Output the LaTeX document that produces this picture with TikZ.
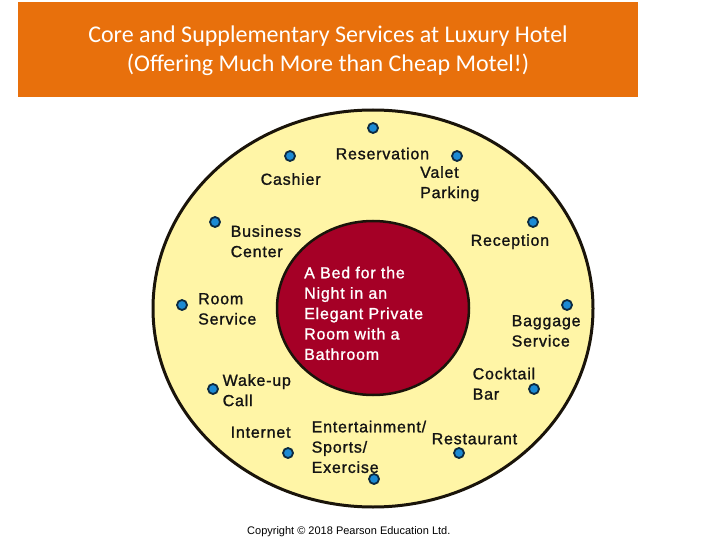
\documentclass[tikz,border=0pt]{standalone}
\usepackage{fontspec}
\setmainfont{Liberation Sans}
\newfontfamily\titrefont{Carlito}
\newfontfamily\servfont[LetterSpace=5,FakeBold=1.2]{Liberation Sans}
\usepackage{xcolor}

\definecolor{bandeau}{HTML}{E8700C}
\definecolor{anneau}{HTML}{FFF5A6}
\definecolor{noyau}{HTML}{A50026}
\definecolor{pastbleu}{HTML}{1C8AD4}
\definecolor{pastbord}{HTML}{0D2A40}
\definecolor{trait}{HTML}{1A140A}

\tikzset{
  pastille/.style={circle,minimum size=10pt,inner sep=0pt,fill=pastbleu,draw=pastbord,line width=1.8pt},
  service/.style={anchor=north west,inner sep=0pt,align=left,text=black!92,
    font=\servfont\fontsize{16}{20.3}\selectfont},
}

\begin{document}
\begin{tikzpicture}[x=1pt,y=-1pt]
    \useasboundingbox (0,0) rectangle (720,540);

    % Bandeau du titre
    \fill[bandeau] (18,2) rectangle (638,97);
    \node[align=center,text=white,font=\titrefont\fontsize{24}{29}\selectfont] (titre) at (328,51)
        {Core and Supplementary Services at Luxury Hotel\\(Offering Much More than Cheap Motel!)};

    % Les deux cercles
    \draw[fill=anneau,draw=trait,line width=3pt] (373,308.5) ellipse [x radius=220,y radius=198.5];
    \draw[fill=noyau,draw=trait,line width=2.5pt] (373,308) ellipse [x radius=96,y radius=87];

    % Service de base
    \node[service,text=white,font=\servfont\fontsize{16}{20.4}\selectfont] (coeur) at (304,266.5)
        {A Bed for the\\Night in an\\Elegant Private\\Room with a\\Bathroom};

    % Pastilles des services supplémentaires
    \node[pastille] (pRes) at (373,128) {};
    \node[pastille] (pCas) at (290,156) {};
    \node[pastille] (pVal) at (457,156) {};
    \node[pastille] (pBus) at (215,222) {};
    \node[pastille] (pRec) at (533,222) {};
    \node[pastille] (pRoo) at (182,305) {};
    \node[pastille] (pBag) at (567,305) {};
    \node[pastille] (pWak) at (213,389) {};
    \node[pastille] (pCoc) at (534,389) {};
    \node[pastille] (pInt) at (288,453) {};
    \node[pastille] (pRst) at (459,453) {};
    \node[pastille] (pEnt) at (374,479) {};

    % Noms des services supplémentaires
    \node[service] (lRes) at (335.5,147.5) {Reservation};
    \node[service] (lCas) at (260.5,173) {Cashier};
    \node[service] (lVal) at (420,166) {Valet\\Parking};
    \node[service] (lBus) at (230.5,225) {Business\\Center};
    \node[service] (lRec) at (470.5,234) {Reception};
    \node[service] (lRoo) at (198,293) {Room\\Service};
    \node[service] (lBag) at (511.5,315) {Baggage\\Service};
    \node[service] (lCoc) at (472.5,367.5) {Cocktail\\Bar};
    \node[service] (lWak) at (222.5,374) {Wake-up\\Call};
    \node[service] (lInt) at (230.5,426.5) {Internet};
    \node[service] (lEnt) at (311.5,420.5) {Entertainment/\\Sports/\\Exercise};
    \node[service] (lRst) at (431.5,433) {Restaurant};

    % Mention du copyright
    \node[anchor=base west,inner sep=0pt,font=\fontsize{11}{13}\selectfont] (copy) at (247,534)
        {Copyright \textcopyright{} 2018 Pearson Education Ltd.};
\end{tikzpicture}
\end{document}
